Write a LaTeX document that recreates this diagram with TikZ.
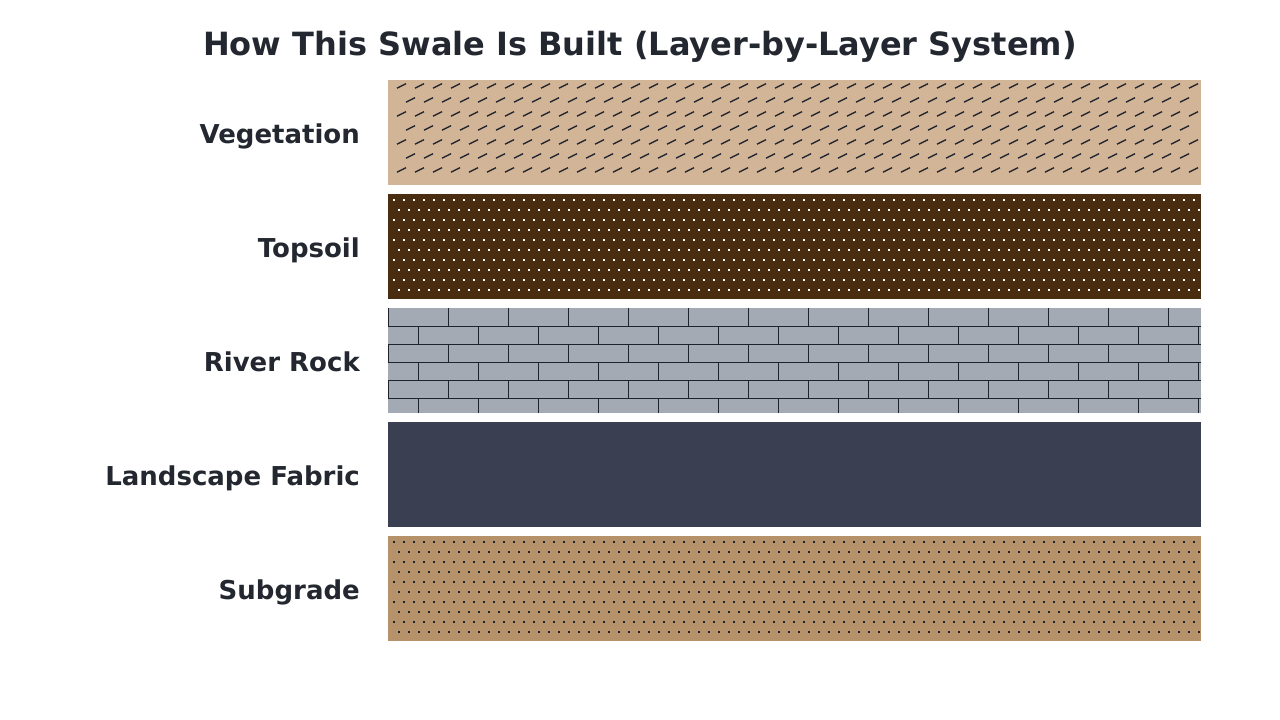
\documentclass[tikz,border=0pt]{standalone}
\usepackage{fontspec}
\setmainfont{DejaVu Sans}
\definecolor{txt}{HTML}{23272F}
\definecolor{vegc}{HTML}{D2B596}
\definecolor{topc}{HTML}{4A2C11}
\definecolor{rockc}{HTML}{A4AAB4}
\definecolor{fabc}{HTML}{3A3F52}
\definecolor{subc}{HTML}{B59269}
\definecolor{ink}{HTML}{1F232B}
\tikzset{
  layer/.style={minimum width=813pt, minimum height=105pt, inner sep=0pt, draw=none},
  lbl/.style={anchor=base east, text=txt, font=\fontsize{26}{31}\selectfont\bfseries, inner sep=0pt},
  ttl/.style={anchor=base, text=txt, font=\fontsize{32}{38}\selectfont\bfseries, inner sep=0pt},
  hatchline/.style={draw=ink, line width=1.4pt},
  mortar/.style={draw=ink, line width=1pt},
}
\begin{document}
\begin{tikzpicture}[x=1pt,y=-1pt]
\useasboundingbox (0,0) rectangle (1280,720);
\fill[white] (0,0) rectangle (1280,720);

\node[ttl] (title) at (640,55.5) {How This Swale Is Built (Layer-by-Layer System)};

% layers
\node[layer, fill=vegc] (veg) at (794.5,132.5) {};
\node[layer, fill=topc] (top) at (794.5,246.5) {};
\node[layer, fill=rockc] (rock) at (794.5,360.5) {};
\node[layer, fill=fabc] (fab) at (794.5,474.5) {};
\node[layer, fill=subc] (sub) at (794.5,588.5) {};

% labels
\node[lbl] (vegl) at (360,143.5) {Vegetation};
\node[lbl] (topl) at (360,257.5) {Topsoil};
\node[lbl] (rockl) at (360,371.5) {River Rock};
\node[lbl] (fabl) at (360,485.5) {Landscape Fabric};
\node[lbl] (subl) at (360,599.5) {Subgrade};

% vegetation hatch
\begin{scope}
\clip (veg.south west) rectangle (veg.north east);
\foreach \j in {0,...,6} {
  \pgfmathsetmacro\yy{86+14*\j}
  \pgfmathsetmacro\xo{mod(\j,2)*9}
  \pgfmathtruncatemacro\nn{44-mod(\j,2)}
  \foreach \i in {0,...,\nn} {
    \draw[hatchline] ({397+\xo+18*\i},{\yy+2.2}) -- ++(9,-4.5);
  }
}
\end{scope}

% topsoil dots
\begin{scope}
\clip (top.south west) rectangle (top.north east);
\foreach \j in {0,...,9} {
  \pgfmathsetmacro\yy{200+10*\j}
  \pgfmathsetmacro\xo{mod(\j,2)*5}
  \foreach \i in {0,...,80} {
    \fill[white] ({394+\xo+10*\i-1},{\yy-1}) rectangle ++(2,2);
  }
}
\end{scope}

% subgrade dots
\begin{scope}
\clip (sub.south west) rectangle (sub.north east);
\foreach \j in {0,...,9} {
  \pgfmathsetmacro\yy{542+10*\j}
  \pgfmathsetmacro\xo{mod(\j,2)*5}
  \foreach \i in {0,...,80} {
    \fill[ink] ({394+\xo+10*\i-1},{\yy-1}) rectangle ++(2,2);
  }
}
\end{scope}

% river rock bricks
\foreach \r in {1,...,5} {
  \draw[mortar] ({388},{308+18*\r}) -- ({1201},{308+18*\r});
}
\foreach \r in {0,...,5} {
  \pgfmathsetmacro\yt{308+18*\r}
  \pgfmathsetmacro\yb{min(\yt+18,413)}
  \pgfmathsetmacro\xo{mod(\r,2)*30}
  \foreach \k in {0,...,13} {
    \draw[mortar] ({388.5+\xo+60*\k},\yt) -- ({388.5+\xo+60*\k},\yb);
  }
}
\end{tikzpicture}
\end{document}
